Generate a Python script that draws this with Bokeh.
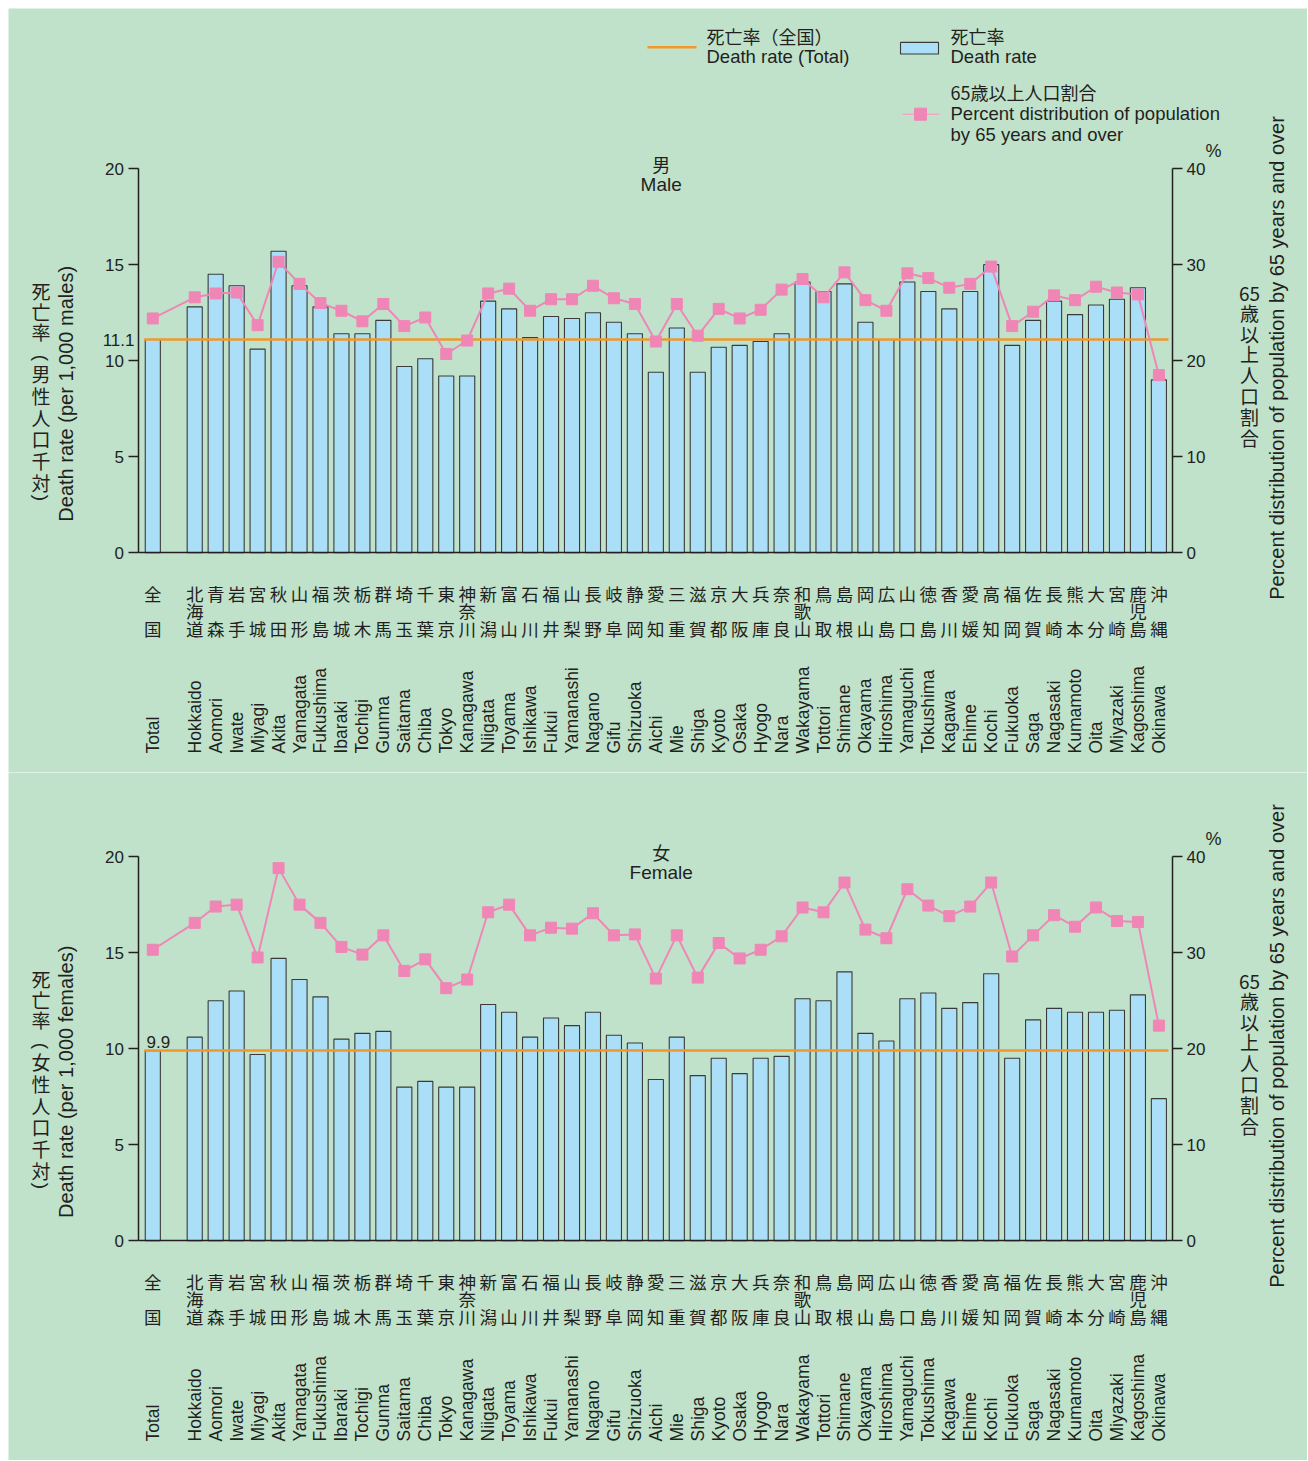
import math
from bokeh.plotting import figure
from bokeh.models import Range1d, LinearAxis, FixedTicker
from bokeh.layouts import column
from bokeh.embed import file_html
from bokeh.resources import INLINE
from bokeh.core.properties import value

# ---------------- data ----------------
jp_names = ["全国", "北海道", "青森", "岩手", "宮城", "秋田", "山形", "福島", "茨城", "栃木",
            "群馬", "埼玉", "千葉", "東京", "神奈川", "新潟", "富山", "石川", "福井", "山梨",
            "長野", "岐阜", "静岡", "愛知", "三重", "滋賀", "京都", "大阪", "兵庫", "奈良",
            "和歌山", "鳥取", "島根", "岡山", "広島", "山口", "徳島", "香川", "愛媛", "高知",
            "福岡", "佐賀", "長崎", "熊本", "大分", "宮崎", "鹿児島", "沖縄"]
en_names = ["Total", "Hokkaido", "Aomori", "Iwate", "Miyagi", "Akita", "Yamagata", "Fukushima",
            "Ibaraki", "Tochigi", "Gunma", "Saitama", "Chiba", "Tokyo", "Kanagawa", "Niigata",
            "Toyama", "Ishikawa", "Fukui", "Yamanashi", "Nagano", "Gifu", "Shizuoka", "Aichi",
            "Mie", "Shiga", "Kyoto", "Osaka", "Hyogo", "Nara", "Wakayama", "Tottori", "Shimane",
            "Okayama", "Hiroshima", "Yamaguchi", "Tokushima", "Kagawa", "Ehime", "Kochi",
            "Fukuoka", "Saga", "Nagasaki", "Kumamoto", "Oita", "Miyazaki", "Kagoshima", "Okinawa"]

male_rate = [11.1, 12.8, 14.5, 13.9, 10.6, 15.7, 13.9, 12.8, 11.4, 11.4,
             12.1, 9.7, 10.1, 9.2, 9.2, 13.1, 12.7, 11.2, 12.3, 12.2,
             12.5, 12.0, 11.4, 9.4, 11.7, 9.4, 10.7, 10.8, 11.0, 11.4,
             14.1, 13.6, 14.0, 12.0, 11.1, 14.1, 13.6, 12.7, 13.6, 15.0,
             10.8, 12.1, 13.1, 12.4, 12.9, 13.2, 13.8, 9.0]
male_pct65 = [24.4, 26.6, 27.0, 27.1, 23.7, 30.3, 28.0, 26.0, 25.2, 24.1,
              25.9, 23.6, 24.5, 20.7, 22.1, 27.0, 27.5, 25.2, 26.4, 26.4,
              27.8, 26.5, 25.9, 22.0, 25.9, 22.6, 25.4, 24.4, 25.3, 27.4,
              28.5, 26.6, 29.2, 26.3, 25.2, 29.1, 28.6, 27.6, 28.0, 29.8,
              23.6, 25.1, 26.8, 26.3, 27.7, 27.1, 26.9, 18.5]
female_rate = [9.9, 10.6, 12.5, 13.0, 9.7, 14.7, 13.6, 12.7, 10.5, 10.8,
               10.9, 8.0, 8.3, 8.0, 8.0, 12.3, 11.9, 10.6, 11.6, 11.2,
               11.9, 10.7, 10.3, 8.4, 10.6, 8.6, 9.5, 8.7, 9.5, 9.6,
               12.6, 12.5, 14.0, 10.8, 10.4, 12.6, 12.9, 12.1, 12.4, 13.9,
               9.5, 11.5, 12.1, 11.9, 11.9, 12.0, 12.8, 7.4]
female_pct65 = [30.3, 33.1, 34.8, 35.0, 29.5, 38.8, 35.0, 33.1, 30.6, 29.8,
                31.8, 28.1, 29.3, 26.3, 27.2, 34.2, 35.0, 31.8, 32.6, 32.5,
                34.1, 31.8, 31.9, 27.3, 31.8, 27.4, 31.0, 29.4, 30.3, 31.7,
                34.7, 34.2, 37.3, 32.4, 31.5, 36.6, 34.9, 33.8, 34.8, 37.3,
                29.6, 31.8, 33.9, 32.7, 34.7, 33.3, 33.2, 22.4]

left_ticks = [0, 5, 10, 15, 20]
right_ticks = [0, 10, 20, 30, 40]

# ---------------- style / layout ----------------
BG = "#c0e2cb"
INK = "#231f20"
BAR_FILL = "#abdff7"
BAR_LINE = "#3a3a3a"
ORANGE = "#f2982a"
PINK = "#f086b6"
PINK_LIGHT = "#f3a7c6"
JP = "Noto Sans CJK JP"
EN = "Liberation Sans"

W = 1299          # figure width (page x 8 .. 1307)
PITCH = 20.96     # px per category slot
SLOT0_PX = 152.3  # page x of the first slot
PPU = 19.21       # px per death-rate unit
BAR_W = 0.72
AX_L_PX = 137.5   # page x of the left axis
AX_R_PX = 1172.0  # page x of the right axis

# slot positions: Total at 0, an empty slot, then the prefectures
xs = [0] + list(range(2, len(jp_names) + 1))


def px_x(px):
    """page x pixel -> data x"""
    return (px - SLOT0_PX) / PITCH


def up_y(up):
    """pixels above the zero line -> data y"""
    return up / PPU


def txt(p, xpx, up, s, font, size, align="left", baseline="middle", angle=0.0):
    p.text(x=[px_x(xpx)], y=[up_y(up)], text=[s], text_font=value(font), text_font_size=size,
           text_align=align, text_baseline=baseline, angle=angle, text_color=INK)


def column_text(p, xpx, ups, chars, font, size):
    p.text(x=[px_x(xpx)] * len(chars), y=[up_y(u) for u in ups], text=list(chars),
           text_font=value(font), text_font_size=size, text_align="center",
           text_baseline="middle", text_color=INK)


def make_panel(rate, pct, fig_top, fig_h, zero_px, title_jp, title_en, left_jp_a, left_jp_b,
               left_en, total_label_outside, legend):
    y0 = (zero_px - (fig_top + fig_h)) / PPU
    y1 = (zero_px - fig_top) / PPU
    p = figure(width=W, height=fig_h, x_range=Range1d(px_x(8), px_x(8 + W)),
               y_range=Range1d(y0, y1), output_backend="svg", toolbar_location=None,
               min_border=0, background_fill_color=BG, border_fill_color=BG,
               outline_line_color=None)
    p.xgrid.visible = False
    p.ygrid.visible = False
    p.extra_y_ranges = {"pct": Range1d(2 * y0, 2 * y1)}

    # x axis: baseline between the two value axes
    xa = p.xaxis[0]
    xa.fixed_location = 0
    xa.bounds = (px_x(AX_L_PX), px_x(AX_R_PX))
    xa.ticker = FixedTicker(ticks=[])
    xa.axis_line_color = INK
    xa.axis_line_width = 1.5
    xa.major_tick_line_color = None
    xa.minor_tick_line_color = None

    ya = p.yaxis[0]
    ya.fixed_location = px_x(AX_L_PX)
    ya.ticker = FixedTicker(ticks=left_ticks)
    ya.bounds = (0, 20)
    ra = LinearAxis(y_range_name="pct", ticker=FixedTicker(ticks=right_ticks), bounds=(0, 40),
                    fixed_location=px_x(AX_R_PX))
    p.add_layout(ra, "right")
    for ax in (ya, ra):
        ax.axis_line_color = INK
        ax.axis_line_width = 1.5
        ax.major_tick_line_color = INK
        ax.major_tick_line_width = 1.5
        ax.major_tick_out = 10
        ax.major_tick_in = 0
        ax.minor_tick_line_color = None
        ax.major_label_standoff = 4
        ax.major_label_text_font = EN
        ax.major_label_text_font_size = "17px"
        ax.major_label_text_color = INK

    # bars
    p.vbar(x=xs, top=rate, width=BAR_W, bottom=0, fill_color=BAR_FILL,
           line_color=BAR_LINE, line_width=1.1)
    # national total line
    p.segment(x0=[xs[0] - BAR_W / 2 - 0.05], x1=[px_x(AX_R_PX - 4)], y0=[rate[0]], y1=[rate[0]],
              line_color=ORANGE, line_width=2.5)
    # 65+ share
    p.line(x=xs, y=pct, y_range_name="pct", line_color=PINK, line_width=2)
    p.scatter(x=xs, y=pct, y_range_name="pct", marker="square", size=11,
              fill_color=PINK, line_color=PINK)

    # total value label
    if total_label_outside:
        p.text(x=[px_x(134)], y=[rate[0]], text=[f"{rate[0]}"], text_font=value(EN),
               text_font_size="17px", text_align="right", text_baseline="middle", text_color=INK)
    else:
        p.text(x=[px_x(146)], y=[rate[0] + 2.5 / PPU], text=[f"{rate[0]}"], text_font=value(EN),
               text_font_size="17px", text_align="left", text_baseline="bottom", text_color=INK)

    # panel title
    txt(p, 660.7, 389.3, title_jp, JP, "18px", align="center")
    txt(p, 660.7, 368.3, title_en, EN, "19px", align="center")

    # category labels (below the baseline)
    n = len(xs)
    p.text(x=xs, y=[up_y(-40.2)] * n, text=[s[0] for s in jp_names], text_font=value(JP),
           text_font_size="17.5px", text_align="center", text_baseline="middle", text_color=INK)
    mids = [(x, s[1]) for x, s in zip(xs, jp_names) if len(s) == 3]
    p.text(x=[m[0] for m in mids], y=[up_y(-57.7)] * len(mids), text=[m[1] for m in mids],
           text_font=value(JP), text_font_size="17.5px", text_align="center",
           text_baseline="middle", text_color=INK)
    p.text(x=xs, y=[up_y(-75.7)] * n, text=[s[-1] for s in jp_names], text_font=value(JP),
           text_font_size="17.5px", text_align="center", text_baseline="middle", text_color=INK)
    p.text(x=xs, y=[up_y(-200.7)] * n, text=en_names, text_font=value(EN),
           text_font_size="17.5px", text_align="left", text_baseline="middle",
           angle=math.pi / 2, text_color=INK)

    # left axis titles (vertical Japanese, brackets turned for vertical writing)
    column_text(p, 40.5, [262.3 - 20.5 * i for i in range(len(left_jp_a))], left_jp_a, JP, "19px")
    column_text(p, 40.5, [179.3 - 21.8 * i for i in range(len(left_jp_b))], left_jp_b, JP, "19px")
    p.text(x=[px_x(40.5)] * 2, y=[up_y(195), up_y(55)], text=["(", ")"], text_font=value(EN),
           text_font_size="19px", text_align="center", text_baseline="middle",
           angle=-math.pi / 2, text_color=INK)
    txt(p, 65, 159, left_en, EN, "20px", align="center", angle=math.pi / 2)

    # right axis titles
    txt(p, 1249, 259, "65", JP, "19px", align="center")
    rchars = "歳以上人口割合"
    column_text(p, 1249, [240.6 - 20.8 * i for i in range(len(rchars))], rchars, JP, "19px")
    txt(p, 1276.7, 194.8, "Percent distribution of population by 65 years and over", EN,
        "20px", align="center", angle=math.pi / 2)
    txt(p, 1213, 402.3, "%", EN, "18px", align="center")

    if legend:
        # death rate (total)
        p.segment(x0=[px_x(647)], x1=[px_x(696)], y0=[up_y(505.6)], y1=[up_y(505.6)],
                  line_color=ORANGE, line_width=2.5)
        txt(p, 706, 517.3, "死亡率（全国）", JP, "18px")
        txt(p, 706, 496.6, "Death rate (Total)", EN, "18.5px")
        # death rate
        p.rect(x=[px_x(919)], y=[up_y(504.6)], width=38 / PITCH, height=11.6 / PPU,
               fill_color=BAR_FILL, line_color=BAR_LINE, line_width=1.1)
        txt(p, 950, 517.3, "死亡率", JP, "18px")
        txt(p, 950, 496.6, "Death rate", EN, "18.5px")
        # 65+
        p.segment(x0=[px_x(902)], x1=[px_x(939)], y0=[up_y(438.6)], y1=[up_y(438.6)],
                  line_color=PINK_LIGHT, line_width=1.5)
        p.scatter(x=[px_x(920)], y=[up_y(438.6)], marker="square", size=12,
                  fill_color=PINK, line_color=PINK)
        txt(p, 950, 461.3, "65歳以上人口割合", JP, "18px")
        txt(p, 950, 439.3, "Percent distribution of population", EN, "18.5px")
        txt(p, 950, 418.3, "by 65 years and over", EN, "18.5px")
    return p


top = make_panel(male_rate, male_pct65, 8, 764, 552.3, "男", "Male", "死亡率", "男性人口千対",
                 "Death rate (per 1,000 males)", True, True)
bottom = make_panel(female_rate, female_pct65, 772, 688, 1240.3, "女", "Female", "死亡率",
                    "女性人口千対", "Death rate (per 1,000 females)", False, False)

layout = column(top, bottom, spacing=0, margin=(8, 0, 0, 8))
open("out.html", "w").write(file_html(layout, INLINE))
